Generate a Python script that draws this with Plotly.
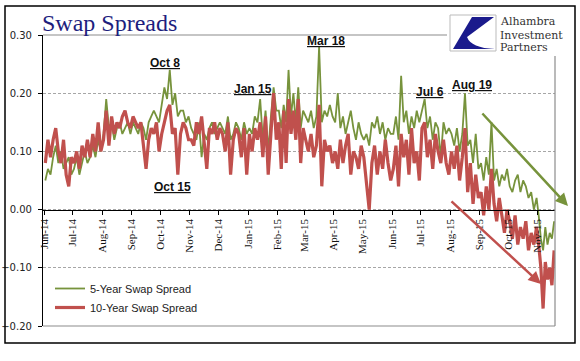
import calendar
import pandas as pd
import plotly.graph_objects as go

# ---------------- data ----------------
months = ["2014-06", "2014-07", "2014-08", "2014-09", "2014-10", "2014-11",
          "2014-12", "2015-01", "2015-02", "2015-03", "2015-04", "2015-05",
          "2015-06", "2015-07", "2015-08", "2015-09", "2015-10", "2015-11"]
last_day = "2015-11-18"

swap_5y = [
    # Jun-14
    0.05, 0.07, 0.06, 0.09, 0.11, 0.08, 0.10, 0.07, 0.08, 0.09, 0.06,
    # Jul-14
    0.07, 0.09, 0.06, 0.08, 0.10, 0.08, 0.09, 0.11, 0.09, 0.12, 0.10,
    # Aug-14
    0.13, 0.19, 0.14, 0.15, 0.12, 0.14, 0.15, 0.13, 0.14, 0.15, 0.13,
    # Sep-14
    0.15, 0.14, 0.13, 0.15, 0.14, 0.12, 0.15, 0.16, 0.17, 0.16, 0.15,
    # Oct-14
    0.18, 0.21, 0.19, 0.24, 0.18, 0.20, 0.16, 0.17, 0.17, 0.15, 0.16,
    # Nov-14
    0.14, 0.13, 0.12, 0.15, 0.09, 0.13, 0.12, 0.14, 0.15, 0.13, 0.14,
    # Dec-14
    0.15, 0.14, 0.13, 0.16, 0.12, 0.13, 0.15, 0.14, 0.12, 0.15, 0.13,
    # Jan-15
    0.14, 0.13, 0.16, 0.15, 0.19, 0.12, 0.17, 0.10, 0.16, 0.21, 0.17,
    # Feb-15
    0.17, 0.14, 0.18, 0.15, 0.24, 0.16, 0.20, 0.15, 0.21, 0.14, 0.17,
    # Mar-15
    0.16, 0.15, 0.17, 0.14, 0.16, 0.28, 0.15, 0.17, 0.16, 0.18, 0.16,
    # Apr-15
    0.15, 0.20, 0.14, 0.16, 0.13, 0.15, 0.17, 0.14, 0.12, 0.15, 0.13,
    # May-15
    0.12, 0.13, 0.11, 0.15, 0.14, 0.16, 0.13, 0.15, 0.12, 0.14, 0.13,
    # Jun-15
    0.13, 0.16, 0.12, 0.23, 0.15, 0.17, 0.13, 0.16, 0.14, 0.17, 0.15,
    # Jul-15
    0.17, 0.19, 0.14, 0.16, 0.12, 0.15, 0.14, 0.09, 0.15, 0.13, 0.14,
    # Aug-15
    0.13, 0.11, 0.14, 0.10, 0.13, 0.20, 0.11, 0.12, 0.08, 0.13, 0.07,
    # Sep-15
    0.08, 0.05, 0.09, 0.06, 0.15, 0.05, 0.07, 0.04, 0.06, 0.05, 0.07,
    # Oct-15
    0.04, 0.03, 0.05, 0.06, 0.03, 0.05, 0.04, 0.02, 0.03, 0.00, 0.02,
    # Nov-15
    -0.01, -0.05, -0.07, -0.03, -0.06, -0.04, -0.05, -0.02,
]

swap_10y = [
    # Jun-14
    0.08, 0.12, 0.09, 0.12, 0.14, 0.10, 0.08, 0.12, 0.06, 0.04, 0.09,
    # Jul-14
    0.08, 0.10, 0.07, 0.11, 0.09, 0.12, 0.09, 0.13, 0.10, 0.15, 0.10,
    # Aug-14
    0.12, 0.17, 0.11, 0.16, 0.13, 0.15, 0.14, 0.16, 0.17, 0.15, 0.14,
    # Sep-14
    0.16, 0.15, 0.14, 0.15, 0.11, 0.07, 0.12, 0.14, 0.13, 0.15, 0.10,
    # Oct-14
    0.13, 0.15, 0.17, 0.18, 0.13, 0.14, 0.06, 0.13, 0.15, 0.14, 0.12,
    # Nov-14
    0.12, 0.11, 0.15, 0.13, 0.16, 0.12, 0.07, 0.14, 0.13, 0.15, 0.12,
    # Dec-14
    0.14, 0.13, 0.10, 0.15, 0.06, 0.12, 0.14, 0.13, 0.09, 0.14, 0.06,
    # Jan-15
    0.13, 0.10, 0.14, 0.12, 0.15, 0.09, 0.16, 0.06, 0.14, 0.20, 0.12,
    # Feb-15
    0.15, 0.07, 0.17, 0.08, 0.19, 0.13, 0.17, 0.12, 0.19, 0.08, 0.14,
    # Mar-15
    0.12, 0.10, 0.13, 0.09, 0.11, 0.18, 0.04, 0.12, 0.10, 0.11, 0.08,
    # Apr-15
    0.10, 0.07, 0.12, 0.08, 0.11, 0.13, 0.06, 0.10, 0.09, 0.07, 0.11,
    # May-15
    0.09, 0.04, 0.00, 0.08, 0.11, 0.06, 0.10, 0.07, 0.12, 0.08, 0.05,
    # Jun-15
    0.07, 0.11, 0.04, 0.13, 0.09, 0.12, 0.06, 0.14, 0.08, 0.10, 0.05,
    # Jul-15
    0.14, 0.15, 0.09, 0.12, 0.07, 0.13, 0.10, 0.08, 0.12, 0.08, 0.06,
    # Aug-15
    0.10, 0.07, 0.11, 0.05, 0.09, 0.14, 0.03, 0.08, 0.01, 0.06, 0.02,
    # Sep-15
    0.03, -0.01, 0.04, 0.00, 0.07, 0.01, -0.02, 0.02, -0.01, -0.04, 0.00,
    # Oct-15
    -0.02, -0.05, -0.01, -0.06, -0.03, -0.05, -0.02, -0.07, -0.04, -0.06, -0.03,
    # Nov-15
    -0.06, -0.10, -0.17, -0.09, -0.12, -0.10, -0.13, -0.07,
]

event_labels = ["Oct 8", "Oct 15", "Jan 15", "Mar 18", "Jul 6", "Aug 19"]
logo_lines = ["Alhambra", "Investment", "Partners"]
y_ticks = [0.30, 0.20, 0.10, 0.00, -0.10, -0.20]

# ---------------- dates: spread each month's observations over the month ---------
per_month = 11
dates = []
for i, m in enumerate(months):
    start = pd.Timestamp(m + "-01")
    if i < len(months) - 1:
        span = calendar.monthrange(start.year, start.month)[1]
        for k in range(per_month):
            dates.append(start + pd.Timedelta(days=(k + 0.5) * span / per_month))
    else:
        n_last = len(swap_5y) - per_month * (len(months) - 1)
        end = pd.Timestamp(last_day)
        span = (end - start).days
        for k in range(n_last):
            dates.append(start + pd.Timedelta(days=0.8 + k * (span - 0.8) / (n_last - 1)))

# ---------------- layout helpers (pixel -> paper) ----------------
W, H = 580, 361
L, R, T, B = 43, 555, 35, 326
def px(x):
    return (x - L) / (R - L)
def py(y):
    return (B - y) / (B - T)

GREEN = "#77933C"
RED = "#C0504D"

fig = go.Figure()
fig.add_trace(go.Scatter(x=dates, y=swap_5y, mode="lines", name="5-Year Swap Spread",
                         line=dict(color=GREEN, width=1.8)))
fig.add_trace(go.Scatter(x=dates, y=swap_10y, mode="lines", name="10-Year Swap Spread",
                         line=dict(color=RED, width=3.2)))

fig.update_layout(
    width=W, height=H,
    margin=dict(l=L, r=W - R, t=T, b=H - B, autoexpand=False),
    paper_bgcolor="white", plot_bgcolor="white",
    showlegend=True,
    legend=dict(x=px(50), y=py(274), xanchor="left", yanchor="top",
                bgcolor="rgba(0,0,0,0)", font=dict(family="Liberation Sans", size=11, color="#222"),
                itemwidth=30, tracegroupgap=0),
    hovermode=False,
    title=dict(text="Swap Spreads", x=42 / W, xanchor="left",
               y=1 - 31 / H, yanchor="bottom",
               font=dict(family="Liberation Serif", size=24, color="#1E1E7E")),
)

fig.update_yaxes(
    range=[-0.2, 0.3], tickvals=y_ticks, tickformat=".2f", automargin=False,
    showline=True, linecolor="black", linewidth=1.2,
    ticks="outside", ticklen=4, tickcolor="black",
    showgrid=True, gridcolor="#A6A6A6", griddash="3px,2px", gridwidth=1,
    zeroline=False,
    tickfont=dict(family="DejaVu Sans", size=10, color="#222"),
    ticklabelstandoff=4,
)
fig.update_xaxes(
    range=[pd.Timestamp("2014-05-30 22:00"), pd.Timestamp("2015-11-18 22:00")],
    anchor="free", position=0.4, automargin=False,
    tick0="2014-06-01", dtick="M1", tickformat="%b-%y", tickangle=-90,
    showline=True, linecolor="black", linewidth=1.2,
    ticks="outside", ticklen=4, tickcolor="black",
    showgrid=False, zeroline=False,
    tickfont=dict(family="Liberation Serif", size=11, color="#111"),
)

shapes = [
    # plot-area grey frame (top, right, bottom)
    dict(type="line", xref="paper", yref="paper", x0=0, x1=1, y0=1, y1=1,
         line=dict(color="#8C8C8C", width=1.2)),
    dict(type="line", xref="paper", yref="paper", x0=1, x1=1, y0=0, y1=1,
         line=dict(color="#8C8C8C", width=1.2)),
    dict(type="line", xref="paper", yref="paper", x0=0, x1=1, y0=0, y1=0,
         line=dict(color="#8C8C8C", width=1.2)),
    # outer chart border
    dict(type="rect", xref="paper", yref="paper", x0=px(5), x1=px(575), y0=py(343), y1=py(6),
         line=dict(color="black", width=1.5), layer="above"),
    # logo panel (white background over the frame) and mark
    dict(type="rect", xref="paper", yref="paper", x0=px(447), x1=px(574), y0=py(56), y1=py(12),
         line=dict(width=0), fillcolor="white", layer="above"),
    dict(type="rect", xref="paper", yref="paper", x0=px(450), x1=px(496), y0=py(51), y1=py(15),
         line=dict(color="#BBBBBB", width=1), fillcolor="white", layer="above"),
    dict(type="path", xref="paper", yref="paper", layer="above",
         path=(f"M {px(453)},{py(49)} L {px(472)},{py(17)} L {px(494)},{py(17)} "
               f"L {px(467)},{py(37)} Q {px(471)},{py(48)} {px(495)},{py(49)} Z"),
         fillcolor="#1A1A8C", line=dict(width=0)),
]
fig.update_layout(shapes=shapes)

ann_font = dict(family="Liberation Sans", size=12, color="#111", lineposition="under")
ann_pos = [(165, 63), (172, 187), (253, 89), (326, 41), (430, 92), (472, 85)]
annotations = []
for lab, (ax_, ay_) in zip(event_labels, ann_pos):
    annotations.append(dict(text=f"<b>{lab}</b>", xref="paper", yref="paper",
                            x=px(ax_), y=py(ay_), xanchor="center", yanchor="middle",
                            showarrow=False, font=ann_font))
# trend arrows
annotations.append(dict(text="", xref="paper", yref="paper", x=px(568), y=py(206),
                        ax=481 - 568, ay=112 - 206, showarrow=True, arrowhead=2,
                        arrowsize=1, arrowwidth=2.5, arrowcolor=GREEN))
annotations.append(dict(text="", xref="paper", yref="paper", x=px(541), y=py(284),
                        ax=450 - 541, ay=200 - 284, showarrow=True, arrowhead=2,
                        arrowsize=1, arrowwidth=2.5, arrowcolor=RED))
# logo text, one line each
for line_txt, yc in zip(logo_lines, [22, 35, 48]):
    annotations.append(dict(text=line_txt, xref="paper", yref="paper",
                            x=px(499), y=py(yc), xanchor="left", yanchor="middle",
                            showarrow=False, borderpad=0,
                            font=dict(family="DejaVu Serif", size=11, color="#333333")))
fig.update_layout(annotations=annotations)

fig.write_html("out.html", config={"displayModeBar": False},
               post_script="document.body.style.margin='0';")
